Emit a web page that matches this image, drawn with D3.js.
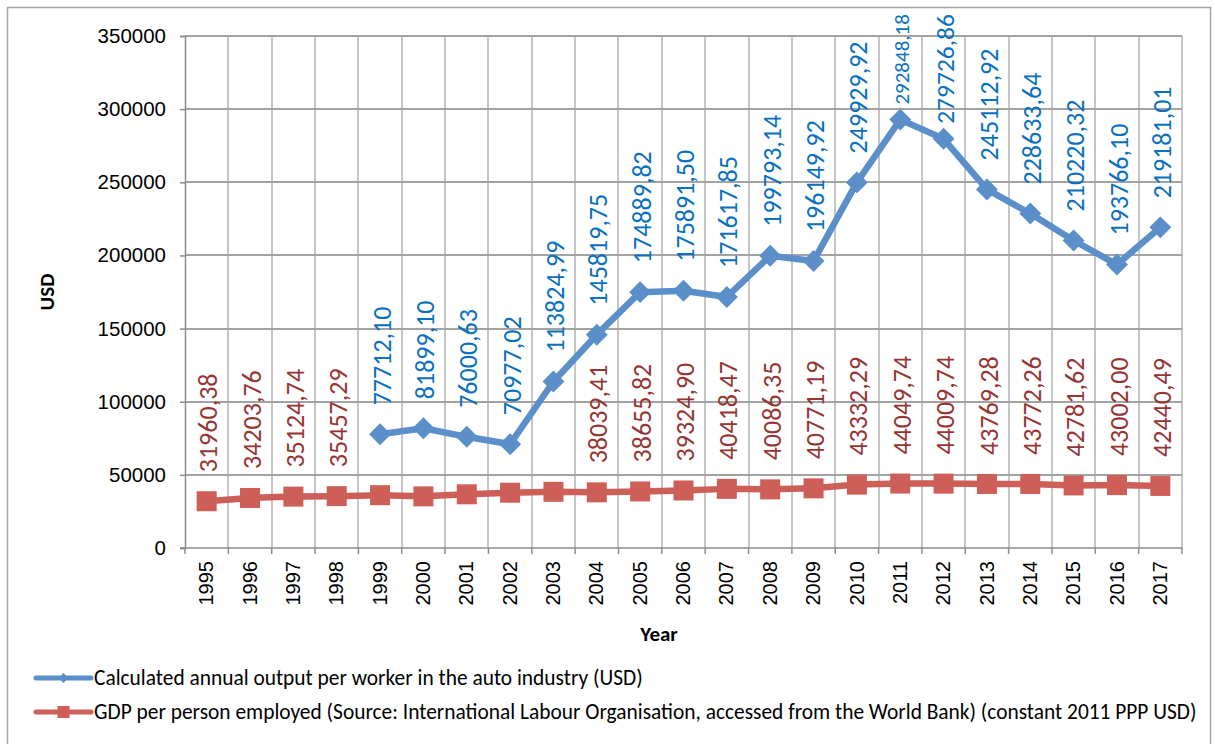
<html>
	<head>
		<script src="https://cdnjs.cloudflare.com/ajax/libs/d3/7.8.5/d3.min.js"></script>
		<style>
            body {
                margin: 0;
                background: white;
            }

            svg {
                font-family: Carlito, Calibri, "Liberation Sans", Arial, sans-serif;
            }

            .grid line {
                shape-rendering: crispEdges;
            }
		</style>
	</head>
	<body>
		<script type='text/javascript'>
            var years = ["1995", "1996", "1997", "1998", "1999", "2000", "2001", "2002", "2003", "2004", "2005",
                "2006", "2007", "2008", "2009", "2010", "2011", "2012", "2013", "2014", "2015", "2016", "2017"];

            // auto industry output per worker (no data before 1999)
            var outputPerWorker = [null, null, null, null, 77712.10, 81899.10, 76000.63, 70977.02, 113824.99,
                145819.75, 174889.82, 175891.50, 171617.85, 199793.14, 196149.92, 249929.92, 292848.18,
                279726.86, 245112.92, 228633.64, 210220.32, 193766.10, 219181.01];

            // GDP per person employed, 1999-2003 read off the markers (no labels shown)
            var gdpPerEmployed = [31960.38, 34203.76, 35124.74, 35457.29, 36100, 35300, 36700, 37800, 38400,
                38039.41, 38655.82, 39324.90, 40418.47, 40086.35, 40771.19, 43332.29, 44049.74, 44009.74,
                43769.28, 43772.26, 42781.62, 43002.00, 42440.49];

            // which points get a value label
            var gdpLabelShown = [true, true, true, true, false, false, false, false, false,
                true, true, true, true, true, true, true, true, true, true, true, true, true, true];

            var yTicks = [0, 50000, 100000, 150000, 200000, 250000, 300000, 350000];

            var seriesNames = [
                "Calculated annual output per worker in the auto industry (USD)",
                "GDP per person employed (Source: International Labour Organisation, accessed from the World Bank) (constant 2011 PPP USD)"
            ];

            var blue = "#5a8fca";
            var red = "#cd5f58";
            var blueLabel = "#0a70c0";
            var redLabel = "#963634";

            var width = 1215;
            var height = 744;
            var plotLeft = 185, plotRight = 1182, plotTop = 36, plotBottom = 548;

            var svg = d3.select("body")
                .append("svg")
                .attr("width", width)
                .attr("height", height);

            svg.append("rect")
                .attr("x", 7.5)
                .attr("y", 7.5)
                .attr("width", 1203)
                .attr("height", 760)
                .attr("fill", "white")
                .attr("stroke", "#a5a5a5")
                .attr("stroke-width", 1.5);

            var x = d3.scaleBand().domain(years).range([plotLeft, plotRight]).padding(0);
            var y = d3.scaleLinear().domain([0, 350000]).range([plotBottom, plotTop]);
            var cx = d => x(d) + x.bandwidth() / 2;

            // vertical gridlines on category boundaries
            var bounds = years.map(d => x(d)).concat([plotRight]);
            svg.append("g")
                .attr("class", "grid")
                .selectAll("line")
                .data(bounds.slice(1))
                .join("line")
                .attr("x1", d => Math.round(d))
                .attr("x2", d => Math.round(d))
                .attr("y1", plotTop)
                .attr("y2", plotBottom)
                .attr("stroke", "#c6c6c6")
                .attr("stroke-width", 2);

            // horizontal gridlines
            svg.append("g")
                .attr("class", "grid")
                .selectAll("line")
                .data(yTicks.slice(1))
                .join("line")
                .attr("x1", plotLeft)
                .attr("x2", plotRight)
                .attr("y1", d => Math.round(y(d)))
                .attr("y2", d => Math.round(y(d)))
                .attr("stroke", "#a3a3a3")
                .attr("stroke-width", 1.5);

            // y axis
            var yAxis = svg.append("g")
                .attr("transform", "translate(" + plotLeft + ",0)")
                .call(d3.axisLeft(y).tickValues(yTicks).tickSize(5).tickPadding(14).tickFormat(d => d));
            yAxis.select(".domain").attr("stroke", "#8c8c8c").attr("stroke-width", 1.5);
            yAxis.selectAll(".tick line").attr("stroke", "#8c8c8c").attr("stroke-width", 1.5);
            yAxis.selectAll(".tick text")
                .attr("font-size", 20.5)
                .attr("fill", "#000")
                .style("font-family", "inherit");

            // x axis: labels at centers, ticks on boundaries
            var xAxis = svg.append("g")
                .attr("transform", "translate(0," + plotBottom + ")")
                .call(d3.axisBottom(x).tickSize(0));
            xAxis.select(".domain").remove();
            xAxis.selectAll(".tick text")
                .attr("font-size", 20)
                .attr("fill", "#000")
                .style("font-family", "inherit")
                .attr("text-anchor", "end")
                .attr("transform", "rotate(-90)")
                .attr("x", -13)
                .attr("y", 0)
                .attr("dy", "0.33em");

            svg.append("line")
                .attr("x1", plotLeft - 5).attr("x2", plotRight)
                .attr("y1", plotBottom).attr("y2", plotBottom)
                .attr("stroke", "#8c8c8c").attr("stroke-width", 1.5);
            svg.append("g")
                .selectAll("line")
                .data(bounds)
                .join("line")
                .attr("x1", d => d).attr("x2", d => d)
                .attr("y1", plotBottom).attr("y2", plotBottom + 6)
                .attr("stroke", "#8c8c8c").attr("stroke-width", 1.5);

            // axis titles
            svg.append("text")
                .text("Year")
                .attr("x", 659)
                .attr("y", 641)
                .attr("text-anchor", "middle")
                .attr("font-weight", "bold")
                .attr("font-size", 21);

            svg.append("text")
                .text("USD")
                .attr("transform", "translate(54,292) rotate(-90)")
                .attr("text-anchor", "middle")
                .attr("font-weight", "bold")
                .attr("font-size", 21);

            var line = d3.line()
                .defined(d => d.v != null)
                .x(d => cx(d.year))
                .y(d => y(d.v));

            var gdpData = years.map((d, i) => ({ year: d, v: gdpPerEmployed[i], show: gdpLabelShown[i] }));
            var outData = years.map((d, i) => ({ year: d, v: outputPerWorker[i], show: outputPerWorker[i] != null }));

            // red series
            svg.append("path")
                .datum(gdpData)
                .attr("d", line)
                .attr("fill", "none")
                .attr("stroke", red)
                .attr("stroke-width", 6.5)
                .attr("stroke-linejoin", "round");
            svg.append("g")
                .selectAll("rect")
                .data(gdpData)
                .join("rect")
                .attr("x", d => cx(d.year) - 10)
                .attr("y", d => y(d.v) - 10)
                .attr("width", 20)
                .attr("height", 20)
                .attr("fill", red);

            // blue series
            svg.append("path")
                .datum(outData)
                .attr("d", line)
                .attr("fill", "none")
                .attr("stroke", blue)
                .attr("stroke-width", 6.5)
                .attr("stroke-linejoin", "round");
            svg.append("g")
                .selectAll("path")
                .data(outData.filter(d => d.v != null))
                .join("path")
                .attr("d", d3.symbol().type(d3.symbolSquare).size(240))
                .attr("transform", d => "translate(" + cx(d.year) + "," + y(d.v) + ") rotate(45)")
                .attr("fill", blue);

            function fmt(v) {
                return v.toFixed(2).replace(".", ",");
            }

            function drawLabels(data, color) {
                svg.append("g")
                    .selectAll("text")
                    .data(data.filter(d => d.show))
                    .join("text")
                    .text(d => fmt(d.v))
                    .attr("fill", color)
                    .attr("font-size", 26)
                    .attr("dy", "0.33em")
                    .each(function (d) {
                        var t = d3.select(this);
                        var px = cx(d.year) + 2;
                        var py = y(d.v) - 29;
                        var len = this.getComputedTextLength();
                        // squeeze labels that would run off the top
                        if (py - len < 12) {
                            py = y(d.v) - 15;
                            t.attr("font-size", 26 * (py - 14) / len);
                        }
                        t.attr("transform", "translate(" + px + "," + py + ") rotate(-90)");
                    });
            }

            drawLabels(outData, blueLabel);
            drawLabels(gdpData, redLabel);

            // legend
            var legend = svg.append("g");
            var legendY = [678, 712];
            var legendColors = [blue, red];

            seriesNames.forEach(function (name, i) {
                var g = legend.append("g").attr("transform", "translate(0," + legendY[i] + ")");
                g.append("line")
                    .attr("x1", 36).attr("x2", 91)
                    .attr("y1", 0).attr("y2", 0)
                    .attr("stroke", legendColors[i])
                    .attr("stroke-width", 5)
                    .attr("stroke-linecap", "round");
                if (i == 0) {
                    g.append("path")
                        .attr("d", d3.symbol().type(d3.symbolSquare).size(50))
                        .attr("transform", "translate(63.5,0) rotate(45)")
                        .attr("fill", legendColors[i]);
                } else {
                    g.append("rect")
                        .attr("x", 57.5).attr("y", -6)
                        .attr("width", 12).attr("height", 12)
                        .attr("fill", legendColors[i]);
                }
                g.append("text")
                    .text(name)
                    .attr("x", 94)
                    .attr("dy", "0.33em")
                    .attr("font-size", 21.4)
                    .attr("fill", "#000");
            });
		</script>
	</body>
</html>
